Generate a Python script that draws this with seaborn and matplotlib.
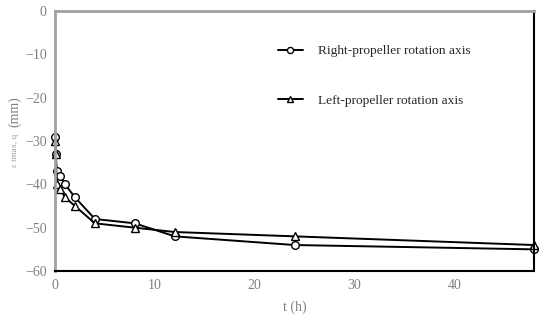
import matplotlib
matplotlib.use("Agg")
import matplotlib.pyplot as plt
import seaborn as sns
import pandas as pd

# data
t_h = [0, 0.08, 0.17, 0.5, 1, 2, 4, 8, 12, 24, 48]
right_axis = [-29, -33, -37, -38, -40, -43, -48, -49, -52, -54, -55]
left_axis = [-30, -33, -40, -41, -43, -45, -49, -50, -51, -52, -54]
x_ticks = [0, 10, 20, 30, 40]
y_ticks = [0, -10, -20, -30, -40, -50, -60]

sns.set_style("white")
plt.rcParams['font.family'] = ['Liberation Serif', 'DejaVu Serif']

df = pd.DataFrame({'t': t_h, 'right': right_axis, 'left': left_axis})

fig = plt.figure(figsize=(5.5, 3.2), dpi=100)
ax = fig.add_axes([0.1, 0.153, 0.871, 0.813])

sns.lineplot(data=df, x='t', y='right', ax=ax, color='black', lw=1.4,
             marker='o', markersize=5.5, markerfacecolor='white',
             markeredgecolor='black', markeredgewidth=1.0,
             label='Right-propeller rotation axis', clip_on=False)
sns.lineplot(data=df, x='t', y='left', ax=ax, color='black', lw=1.4,
             marker='^', markersize=5.5, markerfacecolor='white',
             markeredgecolor='black', markeredgewidth=1.0,
             label='Left-propeller rotation axis', clip_on=False)

ax.set_xlim(0, 48)
ax.set_ylim(-60, 0)
ax.set_xticks(x_ticks)
ax.set_yticks(y_ticks)
ax.set_yticklabels([str(v).replace('-', '\u2212') for v in y_ticks])
ax.tick_params(length=0, labelsize=10, labelcolor='#808080', pad=6)

for side in ['left', 'top']:
    ax.spines[side].set_color('#a0a0a0')
    ax.spines[side].set_linewidth(2)
for side in ['right', 'bottom']:
    ax.spines[side].set_color('black')
    ax.spines[side].set_linewidth(1.5)

ax.set_xlabel('t (h)', fontsize=10, color='#808080', labelpad=6)
ax.set_ylabel('')
fig.text(0.027, 0.53, '\u03b5 tmax, q', rotation=90, fontsize=6.5,
         color='#a0a0a0', ha='center', va='center')
fig.text(0.027, 0.65, '(mm)', rotation=90, fontsize=10,
         color='#808080', ha='center', va='center')

ax.legend(loc='upper left', bbox_to_anchor=(0.44, 0.915), frameon=False,
          fontsize=9.6, labelspacing=2.8, handlelength=1.9, handletextpad=1.1,
          markerscale=0.8)

fig.savefig('out.png', dpi=100)
